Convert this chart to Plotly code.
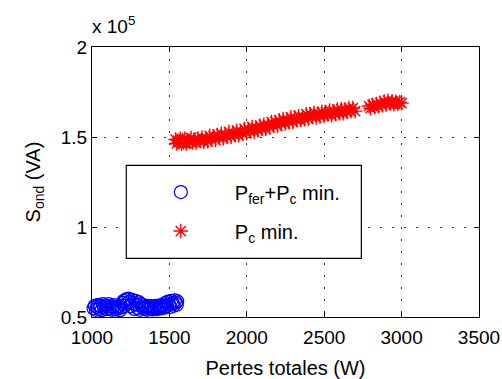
import plotly.graph_objects as go

# ---- data ----
red_x = [1540,1548,1555,1562,1570,1578,1585,1592,1600,1610,1620,1630,1640,1650,1660,1672,1685,1698,
         1710,1722,1735,1748,1760,1772,1785,1798,1810,1822,1835,1848,1860,1872,1885,1898,
         1910,1922,1935,1948,1960,1972,1985,1998,2010,2022,2035,2048,2060,2072,2085,2098,
         2110,2122,2135,2148,2160,2172,2185,2198,2210,2222,2235,2248,2260,2272,2285,2298,
         2310,2322,2335,2348,2360,2372,2385,2398,2410,2422,2435,2448,2460,2472,2485,2498,
         2510,2522,2535,2548,2560,2572,2585,2598,2610,2622,2635,2648,2660,2672,2685,2700,
         2790,2800,2812,2825,2838,2850,2862,2875,2888,2900,2912,2925,2938,2950,2962,2975,2988,3000]
red_y = [148600,146400,148000,147100,149100,146300,148400,146900,149000,146400,148100,147200,149500,146900,148700,146800,149200,147700,
         149700,147400,149200,147600,150700,148600,150500,148300,151200,149600,151800,149300,151300,150000,152800,150100,
         152500,151200,153500,150900,153000,151900,154500,152200,154500,153200,155600,152900,155100,153700,156300,154500,
         156900,154500,156700,155300,158300,156400,158400,156200,159200,157400,160000,157500,159600,158200,161000,158300,
         160800,159500,161600,159400,161200,159900,162700,160100,162700,161200,163500,160800,163000,161500,164000,161700,
         163900,162600,164800,162000,164200,162700,165300,163200,165400,163100,165300,163800,166100,164400,166100,164400,
         167200,166000,167900,166600,168400,167000,169000,167600,169700,168000,170200,168500,169900,168200,169600,168600,169400,168800]

blue_x = [1010,1018,1025,1032,1040,1048,1055,1062,1070,1078,1085,1092,1100,1108,1115,1122,1130,1138,1145,1152,
          1160,1168,1175,1182,1190,1198,1205,1212,1220,1228,1235,1242,1250,1258,1265,1272,1280,1288,1295,1302,
          1310,1318,1325,1332,1340,1348,1355,1362,1370,1378,1385,1392,1400,1408,1415,1422,1430,1438,1445,1452,
          1460,1468,1475,1482,1490,1498,1505,1512,1520,1528,1535,1542,1548,1550]
blue_y = [54800,56200,54000,55600,56800,54500,56000,53800,57100,55200,56500,54300,55800,57200,54700,56000,54000,55500,56600,54200,
          55700,54800,56200,53800,55300,57800,59000,56200,59800,57500,60200,58500,56000,59500,57800,54500,59000,56800,55000,58300,
          54000,57200,55500,56500,54500,55800,54000,56200,55000,54500,56000,54200,55600,54800,56200,54400,55500,56500,54800,56000,
          57000,55200,57800,56200,58500,57000,55500,59000,57500,56200,59200,58000,56800,58800]

x_ticks = [1000, 1500, 2000, 2500, 3000, 3500]
y_ticks = [50000, 100000, 150000, 200000]
y_tick_labels = ["0.5", "1", "1.5", "2"]

FONT = "Liberation Sans, Arial, sans-serif"

fig = go.Figure()
fig.add_trace(go.Scatter(
    x=blue_x, y=blue_y, mode="markers", cliponaxis=False,
    name="P<sub>fer</sub>+P<sub>c</sub> min.", legendgroup="a",
    marker=dict(symbol="circle-open", size=13, color="#0000ff",
                line=dict(width=1.2, color="#0000ff")),
))
fig.add_trace(go.Scatter(
    x=red_x, y=red_y, mode="markers", cliponaxis=False,
    name="P<sub>c</sub> min.", legendgroup="b",
    marker=dict(symbol="asterisk-open", size=12, color="#ff0000",
                line=dict(width=1.4, color="#ff0000")),
))

axis_common = dict(
    automargin=False,
    showline=True, linecolor="black", linewidth=1, mirror="ticks",
    ticks="inside", ticklen=5, tickcolor="black", tickwidth=1,
    showgrid=True, gridcolor="#333333", gridwidth=1, griddash="2px,10px",
    zeroline=False, tickfont=dict(family=FONT, size=19, color="black"),
)

fig.update_xaxes(range=[1000, 3500], tickvals=x_ticks, ticklabelstandoff=3,
                 title=dict(text="Pertes totales (W)", font=dict(family=FONT, size=20, color="black"), standoff=15),
                 **axis_common)
fig.update_yaxes(range=[50000, 200000], tickvals=y_ticks, ticktext=y_tick_labels,
                 title=dict(text="S<sub>ond</sub> (VA)", font=dict(family=FONT, size=20, color="black"), standoff=14),
                 **axis_common)

fig.add_annotation(xref="paper", yref="paper", x=0, y=1, xanchor="left", yanchor="bottom",
                   xshift=-2, yshift=8, text="x 10<sup>5</sup>", showarrow=False,
                   font=dict(family=FONT, size=19, color="black"))

# legend frame (white box covering the grid)
fig.add_shape(type="rect", xref="paper", yref="paper", x0=0.0886, x1=0.696, y0=0.2174, y1=0.5619,
              line=dict(color="black", width=1.2), fillcolor="white", layer="above")

fig.update_layout(
    width=502, height=379,
    margin=dict(l=92, r=23, t=47, b=62),
    paper_bgcolor="white", plot_bgcolor="white",
    font=dict(family=FONT, size=19, color="black"),
    legend=dict(x=0.090, y=0.535, xanchor="left", yanchor="top",
                bgcolor="rgba(0,0,0,0)", borderwidth=0,
                itemwidth=98, tracegroupgap=10,
                font=dict(family=FONT, size=20, color="black")),
)

fig.write_html("out.html", config={"displayModeBar": False})
with open("out.html", encoding="utf-8") as f:
    html = f.read()
html = html.replace("<body>", '<body style="margin:0;padding:0">', 1)
with open("out.html", "w", encoding="utf-8") as f:
    f.write(html)
